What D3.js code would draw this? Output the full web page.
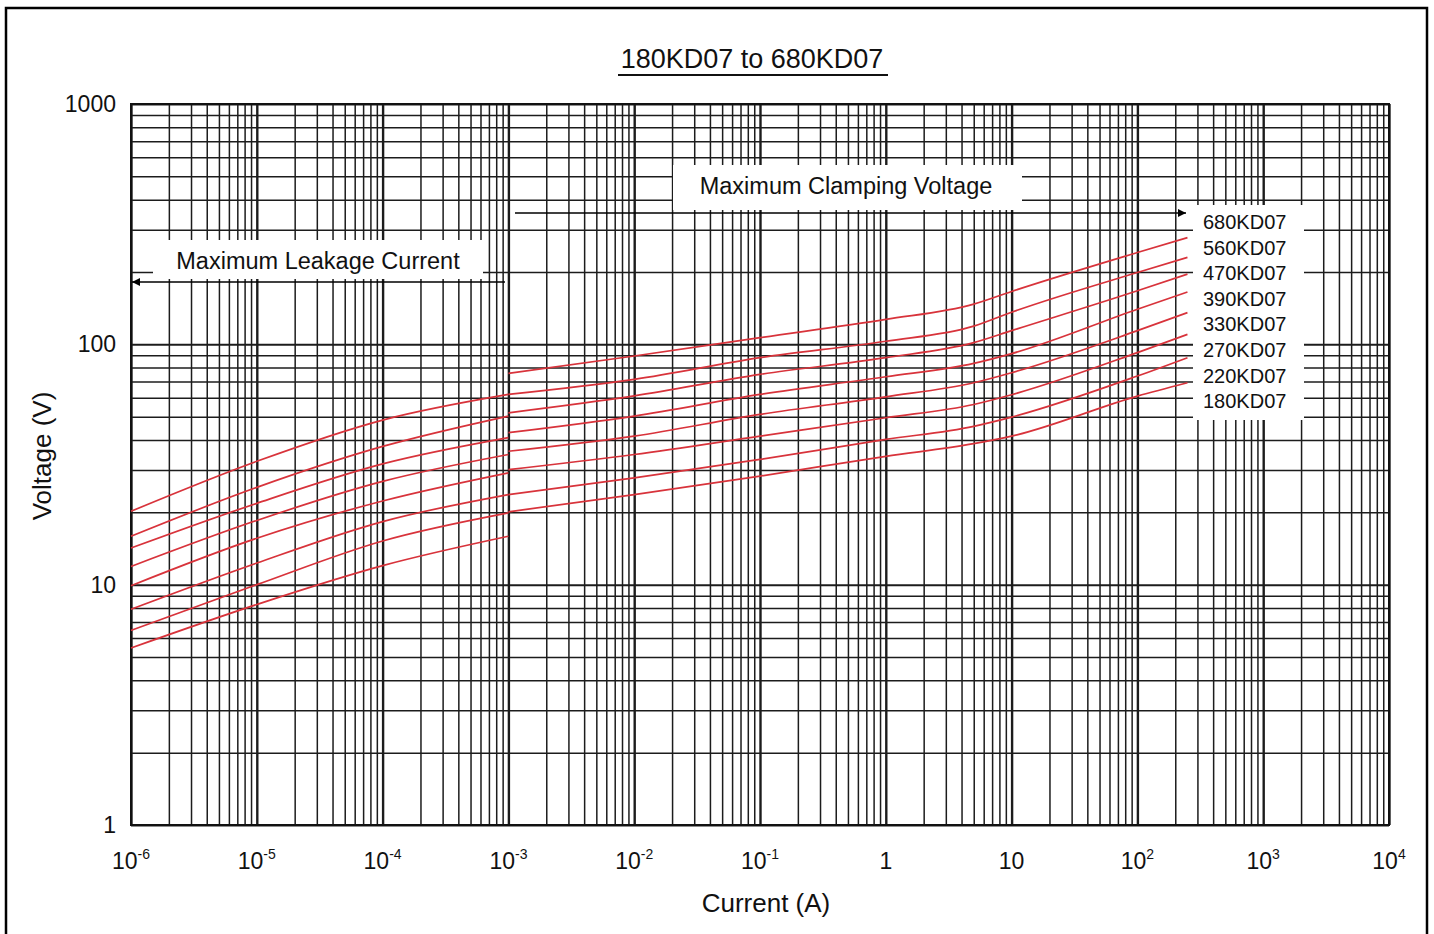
<!DOCTYPE html>
<html>
<head>
<meta charset="utf-8">
<script src="https://cdn.jsdelivr.net/npm/d3@7"></script>
<style>
  body { margin: 0; background: #fff; }
  text { font-family: "Liberation Sans", Arial, sans-serif; fill: #111; }
</style>
</head>
<body>
<script>
// series names, top curve first
var models = ["680KD07", "560KD07", "470KD07", "390KD07", "330KD07", "270KD07", "220KD07", "180KD07"];

// maximum leakage current part (A -> V)
var leakCurrent = [1e-6, 1e-5, 1e-4, 1e-3];
var leak680 = [20.2, 32.6, 48.4, 61.9];
var leak560 = [15.9, 25.4, 37.6, 50.3];
var leak470 = [14.2, 21.8, 31.8, 40.9];
var leak390 = [11.9, 18.5, 26.9, 34.8];
var leak330 = [9.9, 15.6, 22.3, 29.2];
var leak270 = [7.9, 12.3, 18.3, 23.7];
var leak220 = [6.45, 10.0, 15.2, 19.9];
var leak180 = [5.45, 8.27, 12.0, 15.9];

// maximum clamping voltage part (A -> V)
var clampCurrent = [1e-3, 1e-2, 1e-1, 1, 5, 10, 100, 250];
var clamp680 = [75.7, 89.4, 106.6, 127, 147, 166, 241, 278];
var clamp560 = [61.9, 71.5, 88.0, 103, 119, 136, 199, 230];
var clamp470 = [51.9, 61.0, 75.0, 88.0, 101.6, 114, 167, 196];
var clamp390 = [42.9, 50.3, 61.9, 73.3, 83.3, 91.5, 140, 165];
var clamp330 = [35.9, 41.5, 51.1, 60.5, 69.2, 76.2, 114, 135.5];
var clamp270 = [30.1, 34.8, 41.5, 49.5, 56.2, 61.7, 92.4, 110];
var clamp220 = [23.7, 27.8, 33.2, 40.2, 45.6, 49.8, 73.8, 88];
var clamp180 = [20.1, 23.7, 28.3, 34.2, 38.6, 41.5, 60.9, 69.2];

var leakSeries = [leak680, leak560, leak470, leak390, leak330, leak270, leak220, leak180];
var clampSeries = [clamp680, clamp560, clamp470, clamp390, clamp330, clamp270, clamp220, clamp180];

// tick labels
var xTicks = [1e-6, 1e-5, 1e-4, 1e-3, 1e-2, 1e-1, 1, 10, 1e2, 1e3, 1e4];
var xTickLabels = [["10", "-6"], ["10", "-5"], ["10", "-4"], ["10", "-3"], ["10", "-2"], ["10", "-1"],
                   ["1", ""], ["10", ""], ["10", "2"], ["10", "3"], ["10", "4"]];
var yTicks = [1, 10, 100, 1000];
var yTickLabels = ["1", "10", "100", "1000"];

var w = 1434, h = 934;
var plotLeft = 131, plotRight = 1389, plotTop = 104, plotBottom = 825;

var svg = d3.select("body").append("svg")
  .attr("width", w)
  .attr("height", h);

// outer frame
svg.append("rect")
  .attr("x", 6).attr("y", 8)
  .attr("width", 1421).attr("height", 980)
  .attr("fill", "none")
  .attr("stroke", "#000")
  .attr("stroke-width", 2.5);

var x = d3.scaleLog().domain([1e-6, 1e4]).range([plotLeft, plotRight]);
var y = d3.scaleLog().domain([1, 1000]).range([plotBottom, plotTop]);

function isDecade(v) {
  var l = Math.log10(v);
  return Math.abs(l - Math.round(l)) < 1e-9;
}

// grid from the axes
var xGrid = svg.append("g")
  .attr("transform", "translate(0," + plotBottom + ")")
  .call(d3.axisBottom(x).tickValues(x.ticks(40)).tickSize(-(plotBottom - plotTop)).tickFormat(""));
xGrid.select(".domain").remove();
xGrid.selectAll(".tick line")
  .attr("stroke", "#1c1c1c")
  .attr("stroke-width", function(d) { return isDecade(d) ? 2.4 : 1.5; });

var yGrid = svg.append("g")
  .attr("transform", "translate(" + plotLeft + ",0)")
  .call(d3.axisLeft(y).tickValues(y.ticks(40)).tickSize(-(plotRight - plotLeft)).tickFormat(""));
yGrid.select(".domain").remove();
yGrid.selectAll(".tick line")
  .attr("stroke", "#1c1c1c")
  .attr("stroke-width", function(d) { return isDecade(d) ? 2 : 1.5; });

svg.append("rect")
  .attr("x", plotLeft).attr("y", plotTop)
  .attr("width", plotRight - plotLeft).attr("height", plotBottom - plotTop)
  .attr("fill", "none")
  .attr("stroke", "#111")
  .attr("stroke-width", 2);

// white label boxes over the grid
svg.append("rect").attr("x", 153).attr("y", 240).attr("width", 330).attr("height", 39).attr("fill", "#fff");
svg.append("rect").attr("x", 673).attr("y", 165).attr("width", 349).attr("height", 45).attr("fill", "#fff");
svg.append("rect").attr("x", 1193).attr("y", 205).attr("width", 111).attr("height", 215).attr("fill", "#fff");

// arrows
var defs = svg.append("defs");
defs.append("marker")
  .attr("id", "arrowhead")
  .attr("viewBox", "0 0 10 10")
  .attr("refX", 10).attr("refY", 5)
  .attr("markerWidth", 10).attr("markerHeight", 8)
  .attr("markerUnits", "userSpaceOnUse")
  .attr("orient", "auto")
  .append("path")
  .attr("d", "M0,0 L10,5 L0,10 Z")
  .attr("fill", "#000");

svg.append("line")
  .attr("x1", 505).attr("y1", 282).attr("x2", 132).attr("y2", 282)
  .attr("stroke", "#000").attr("stroke-width", 1.6)
  .attr("marker-end", "url(#arrowhead)");
svg.append("line")
  .attr("x1", 515).attr("y1", 213).attr("x2", 1186).attr("y2", 213)
  .attr("stroke", "#000").attr("stroke-width", 1.6)
  .attr("marker-end", "url(#arrowhead)");

// curves
var line = d3.line()
  .x(function(d) { return x(d[0]); })
  .y(function(d) { return y(d[1]); })
  .curve(d3.curveMonotoneX);

var curves = svg.append("g");
leakSeries.forEach(function(s) {
  curves.append("path")
    .attr("d", line(leakCurrent.map(function(c, i) { return [c, s[i]]; })))
    .attr("fill", "none")
    .attr("stroke", "#d8333b")
    .attr("stroke-width", 1.7);
});
clampSeries.forEach(function(s) {
  curves.append("path")
    .attr("d", line(clampCurrent.map(function(c, i) { return [c, s[i]]; })))
    .attr("fill", "none")
    .attr("stroke", "#d8333b")
    .attr("stroke-width", 1.7);
});

// texts
svg.append("text")
  .attr("x", 752).attr("y", 68)
  .attr("text-anchor", "middle")
  .attr("font-size", 27)
  .text("180KD07 to 680KD07");
svg.append("line")
  .attr("x1", 618).attr("x2", 888).attr("y1", 75).attr("y2", 75)
  .attr("stroke", "#111").attr("stroke-width", 2);

svg.append("text")
  .attr("x", 318).attr("y", 269)
  .attr("text-anchor", "middle")
  .attr("font-size", 23.5)
  .text("Maximum Leakage Current");
svg.append("text")
  .attr("x", 846).attr("y", 194)
  .attr("text-anchor", "middle")
  .attr("font-size", 23.5)
  .text("Maximum Clamping Voltage");

svg.selectAll(".model_labels")
  .data(models)
  .enter()
  .append("text")
  .attr("class", "model_labels")
  .attr("x", 1203)
  .attr("y", function(d, i) { return 229 + i * 25.6; })
  .attr("font-size", 20)
  .text(function(d) { return d; });

var xLabels = svg.selectAll(".x_labels")
  .data(xTicks)
  .enter()
  .append("text")
  .attr("class", "x_labels")
  .attr("x", function(d) { return x(d); })
  .attr("y", 869)
  .attr("text-anchor", "middle")
  .attr("font-size", 23);
xLabels.append("tspan").text(function(d, i) { return xTickLabels[i][0]; });
xLabels.append("tspan")
  .attr("dy", -10)
  .attr("font-size", 14)
  .text(function(d, i) { return xTickLabels[i][1]; });

svg.selectAll(".y_labels")
  .data(yTicks)
  .enter()
  .append("text")
  .attr("class", "y_labels")
  .attr("x", 116)
  .attr("y", function(d) { return y(d) + 8; })
  .attr("text-anchor", "end")
  .attr("font-size", 23)
  .text(function(d, i) { return yTickLabels[i]; });

svg.append("text")
  .attr("x", 766).attr("y", 912)
  .attr("text-anchor", "middle")
  .attr("font-size", 26)
  .text("Current (A)");

svg.append("text")
  .attr("transform", "translate(51,456) rotate(-90)")
  .attr("text-anchor", "middle")
  .attr("font-size", 26)
  .text("Voltage (V)");
</script>
</body>
</html>
